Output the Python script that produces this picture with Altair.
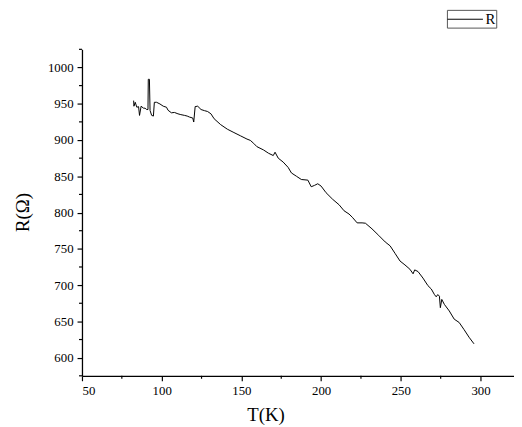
import altair as alt
import pandas as pd

# Temperature (K) and resistance (Ohm)
T = [82.4, 82.6, 83.4, 84.4, 85.5, 86.1, 87.1, 88.5, 89.6, 90.6, 91.4, 91.6, 92.3, 92.7,
     93.7, 94.8, 95.4, 96.8, 98.9, 101.0, 103.0, 104.0, 106.1, 108.0, 110.2, 112.0, 114.4,
     116.0, 117.5, 119.5, 120.1, 121.0, 122.6, 124.7, 126.8, 128.8, 130.9, 132.9, 137.0,
     141.2, 145.3, 149.4, 153.5, 155.6, 157.7, 159.7, 163.9, 167.0, 170.0, 171.1, 173.1,
     176.2, 179.3, 181.4, 184.5, 187.6, 191.7, 193.8, 195.8, 197.9, 200.0, 203.1, 207.2,
     211.3, 214.4, 217.5, 219.6, 222.6, 225.7, 227.8, 231.9, 236.1, 240.2, 243.3, 246.4,
     249.5, 252.6, 255.7, 257.7, 258.7, 260.8, 263.9, 267.0, 269.1, 271.1, 272.2, 273.2,
     274.2, 274.8, 275.7, 277.3, 280.4, 283.5, 286.6, 289.7, 292.8, 295.9]
R = [954.3, 946.6, 952, 945.2, 946, 933.9, 946.6, 944, 943.8, 942, 942, 983.7, 983.7, 940.7,
     934, 933, 952, 952, 949.7, 946.6, 945.2, 941, 937.5, 938, 936.1, 935, 933.9,
     933, 931.6, 930.3, 924.8, 946.1, 946.6, 942, 940.5, 939.3, 936.1, 929.3, 921.2,
     914.9, 910.3, 905.8, 901.3, 899.5, 895.4, 890.9, 886.3, 881.8, 878.6, 883.2, 875,
     869.6, 862.3, 854.6, 850.1, 845.6, 844.7, 835.6, 837.4, 839.7, 836.5, 827.4, 818.4,
     810.7, 802.5, 798, 793.5, 785.8, 785.8, 785.3, 777.6, 768.6, 759.5, 754.1, 743.7,
     733.2, 727.8, 721.9, 715.6, 721, 718.7, 709.7, 699.3, 694.7, 687, 683.9, 687,
     684.8, 668.9, 680.3, 673.5, 664.4, 653.1, 648.5, 638.6, 628.2, 619.1]
SERIES = "R"

x_major = list(range(50, 301, 50))
x_minor = list(range(75, 301, 50))
y_major = list(range(600, 1001, 50))
y_minor = list(range(575, 1026, 50))

df = pd.DataFrame({"T": T, "R": R, "series": SERIES, "order": list(range(len(T)))})
xm = pd.DataFrame({"v": x_minor})
ym = pd.DataFrame({"v": y_minor})

FONT = "'Liberation Serif', 'Times New Roman', serif"
xscale = alt.Scale(domain=[50, 321], nice=False, zero=False)
yscale = alt.Scale(domain=[575, 1025], nice=False, zero=False)
H = 331

x_axis = alt.Axis(title="T(K)", values=x_major, format="d", tickSize=5,
                  labelPadding=4, labelFont=FONT, labelFontSize=13,
                  titleX=186, titleY=45, titleAlign="center",
                  titleBaseline="alphabetic", titleAnchor="start")
y_axis = alt.Axis(title="R(\u03a9)", values=y_major, format="d", tickSize=5,
                  labelPadding=4, labelFont=FONT, labelFontSize=13,
                  titleX=-60, titleY=165, titleAngle=270, titleAlign="center",
                  titleBaseline="middle", titleAnchor="start")

line = alt.Chart(df).mark_line(strokeWidth=1.0, color="black").encode(
    x=alt.X("T:Q", scale=xscale, axis=x_axis),
    y=alt.Y("R:Q", scale=yscale, axis=y_axis),
    order="order:Q",
    color=alt.Color("series:N", scale=alt.Scale(range=["black"]),
                    legend=alt.Legend(title=None, orient="none", legendX=370, legendY=-40,
                                      symbolType="M-1,0H3", symbolSize=324,
                                      symbolStrokeWidth=1, symbolStrokeColor="black",
                                      symbolFillColor="transparent",
                                      labelOffset=20, labelFont=FONT, labelFontSize=15,
                                      labelColor="black", padding=0,
                                      strokeColor="#555555", fillColor="white")),
)

minor_x = alt.Chart(xm).mark_rule(color="black", strokeWidth=1.2).encode(
    x=alt.X("v:Q", scale=xscale, axis=x_axis),
    y=alt.value(H), y2=alt.value(H + 3),
)
minor_y = alt.Chart(ym).mark_rule(color="black", strokeWidth=1.2).encode(
    y=alt.Y("v:Q", scale=yscale, axis=y_axis),
    x=alt.value(0), x2=alt.value(-3),
)

chart = alt.layer(line, minor_x, minor_y).properties(
    width=438, height=H,
    autosize=alt.AutoSizeParams(type="none"),
    padding={"left": 75, "top": 39, "right": 0, "bottom": 49},
).configure_view(stroke=None).configure_axis(
    grid=False, domainColor="black", tickColor="black", domainWidth=1.3, tickWidth=1.2,
    labelFont=FONT, labelFontSize=13, labelColor="black",
    titleFont=FONT, titleFontSize=19, titleFontWeight="normal", titleColor="black",
)

chart.save("out.html", embed_options={"renderer": "svg", "actions": False})
